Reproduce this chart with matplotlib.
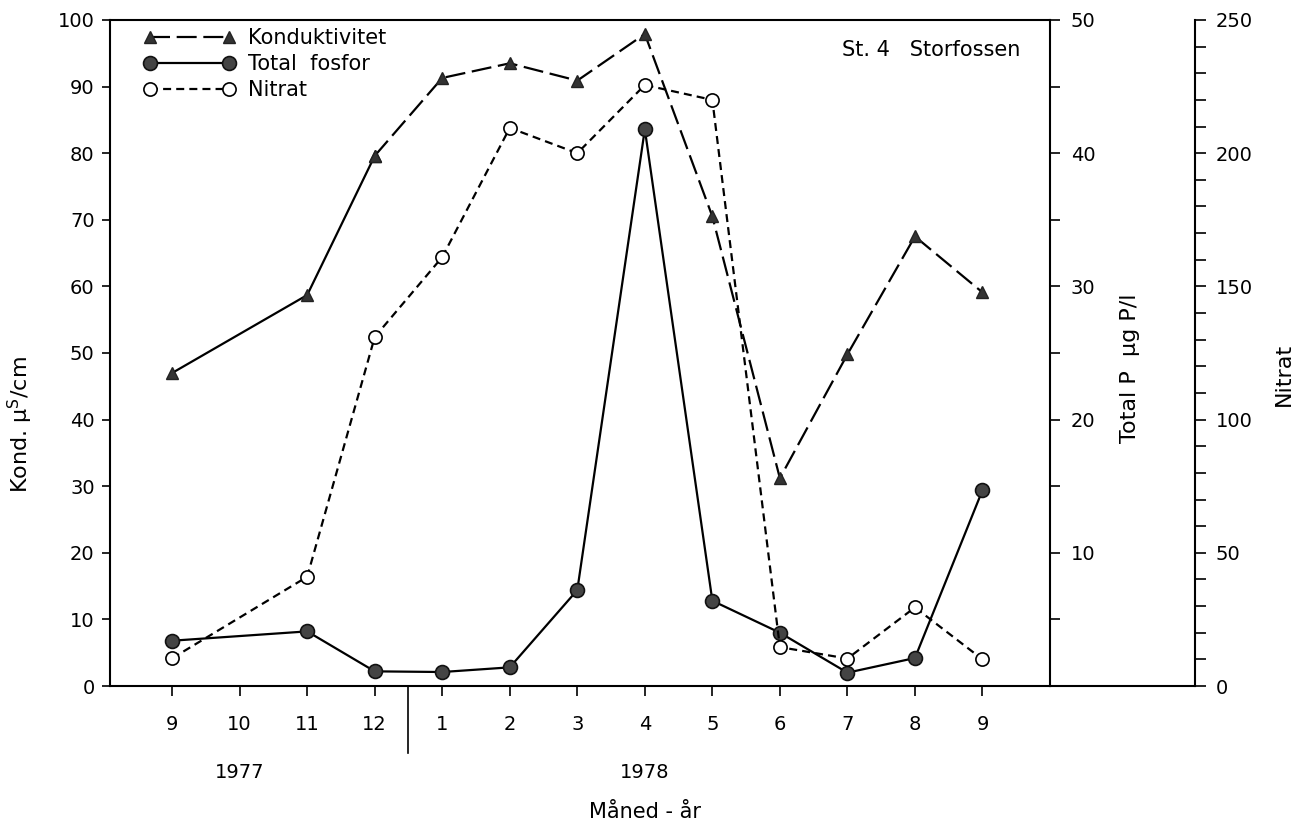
import numpy as np
import matplotlib
matplotlib.use("Agg")
import matplotlib.pyplot as plt
import matplotlib.transforms as mtransforms
from matplotlib.ticker import MultipleLocator

# ── data ──────────────────────────────────────────────────────────────────────
month_labels = ["9", "10", "11", "12", "1", "2", "3", "4", "5", "6", "7", "8", "9"]
years = ["1977", "1978"]
year_pos = [1, 7]

# month index: 0 = Sep 1977 ... 12 = Sep 1978 (no sample in Oct 1977)
sample_idx = [0, 2, 3, 4, 5, 6, 7, 8, 9, 10, 11, 12]
kond = [47.0, 58.7, 79.6, 91.3, 93.5, 90.9, 97.9, 70.5, 31.2, 49.8, 67.5, 59.1]
total_p = [3.4, 4.1, 1.1, 1.05, 1.4, 7.2, 41.8, 6.4, 4.0, 1.0, 2.1, 14.7]
nitrat = [10.4, 41.0, 131.0, 161.0, 209.5, 200.0, 225.6, 220.0, 14.6, 10.3, 29.5, 10.0]
n_solid_kond = 3   # first segments of the conductivity curve are drawn solid

plt.rcParams["font.family"] = ["DejaVu Sans"]
FS = 14
LW = 1.6

fig = plt.figure(figsize=(13.07, 8.32), dpi=100)
ax = fig.add_axes([110 / 1307, 1 - 686 / 832, 940 / 1307, 666 / 832])
ax2 = ax.twinx()
ax3 = ax.twinx()

# ── conductivity (left) ───────────────────────────────────────────────────────
ax.plot(sample_idx[:n_solid_kond], kond[:n_solid_kond], color="black", lw=LW,
        marker="^", ms=8, mfc="#333333", mec="#222222", zorder=3)
h_kond, = ax.plot(sample_idx[n_solid_kond - 1:], kond[n_solid_kond - 1:], color="black",
                  lw=LW, ls=(0, (9, 3)), marker="^", ms=8, mfc="#333333",
                  mec="#222222", zorder=3)

# ── total phosphorus (right 1) ────────────────────────────────────────────────
h_tp, = ax2.plot(sample_idx, total_p, color="black", lw=LW, marker="o", ms=10,
                 mfc="#444444", mec="#111111", mew=1.2, zorder=3)

# ── nitrate (right 2) ─────────────────────────────────────────────────────────
h_nit, = ax3.plot(sample_idx, nitrat, color="black", lw=LW, ls=(0, (3.6, 2.3)),
                  marker="o", ms=9.5, mfc="white", mec="black", mew=1.2, zorder=3)

# ── axes limits / spines ──────────────────────────────────────────────────────
ax.set_xlim(-0.92, 13.0)
ax.set_ylim(0, 100)
ax2.set_ylim(0, 50)
ax3.set_ylim(0, 250)

for a in (ax, ax2, ax3):
    for s in a.spines.values():
        s.set_linewidth(1.5)
ax.spines["right"].set_visible(False)
for s in ("top", "left", "bottom"):
    ax2.spines[s].set_visible(False)
    ax3.spines[s].set_visible(False)
nit_pos = (1195 - 110) / 940
ax3.spines["right"].set_position(("axes", nit_pos))
ax.plot([1, nit_pos], [0, 0], transform=ax.transAxes, color="black", lw=1.5,
        clip_on=False)

# x ticks
ax.set_xticks(range(len(month_labels)))
ax.set_xticklabels(month_labels, fontsize=FS)
ax.tick_params(axis="x", direction="out", length=7, width=1.2, pad=14)

# left ticks
ax.yaxis.set_major_locator(MultipleLocator(10))
ax.tick_params(axis="y", direction="out", length=6, width=1.2, pad=5, labelsize=FS)

# total P ticks
ax2.yaxis.set_major_locator(MultipleLocator(10))
ax2.yaxis.set_minor_locator(MultipleLocator(5))
ax2.tick_params(axis="y", which="both", direction="out", length=7, width=1.2,
                pad=8, labelsize=FS)
ax2.set_yticks([10, 20, 30, 40, 50])

# nitrate ticks
ax3.yaxis.set_major_locator(MultipleLocator(50))
ax3.yaxis.set_minor_locator(MultipleLocator(10))
ax3.tick_params(axis="y", which="both", direction="out", length=8, width=1.2,
                pad=7, labelsize=FS)

# separator between the years (between Dec and Jan)
trans = mtransforms.blended_transform_factory(ax.transData, ax.transAxes)
sep_x = (sample_idx[2] + sample_idx[3]) / 2
ax.plot([sep_x, sep_x], [0, -0.1], transform=trans, color="black", lw=1.2,
        clip_on=False)

ftrans = mtransforms.blended_transform_factory(ax.transData, fig.transFigure)
for yr, xp in zip(years, year_pos):
    ax.text(xp, 1 - 772 / 832, yr, transform=ftrans, ha="center", va="center",
            fontsize=FS)
ax.text(7, 1 - 812 / 832, "Måned - år", transform=ftrans, ha="center",
        va="center", fontsize=15)

# axis labels
fig.text(20 / 1307, 1 - 425 / 832, "Kond. µ$^{\\mathrm{S}}$/cm", rotation=90,
         ha="center", va="center", fontsize=16)
fig.text(1130 / 1307, 1 - 368 / 832, "Total P  µg P/l", rotation=90,
         ha="center", va="center", fontsize=16)
fig.text(1284 / 1307, 1 - 374 / 832, "Nitrat", rotation=90,
         ha="center", va="center", fontsize=16)

ax.text(0.968, 0.955, "St. 4   Storfossen", transform=ax.transAxes, ha="right",
        va="center", fontsize=15)

leg = ax3.legend([h_kond, h_tp, h_nit], ["Konduktivitet", "Total  fosfor", "Nitrat"],
                 loc="upper left", bbox_to_anchor=(0.036, 0.988), frameon=False,
                 fontsize=15, numpoints=2, handlelength=4.4, handletextpad=0.6,
                 labelspacing=0.3, borderpad=0, borderaxespad=0)

fig.savefig("out.png", dpi=100)
